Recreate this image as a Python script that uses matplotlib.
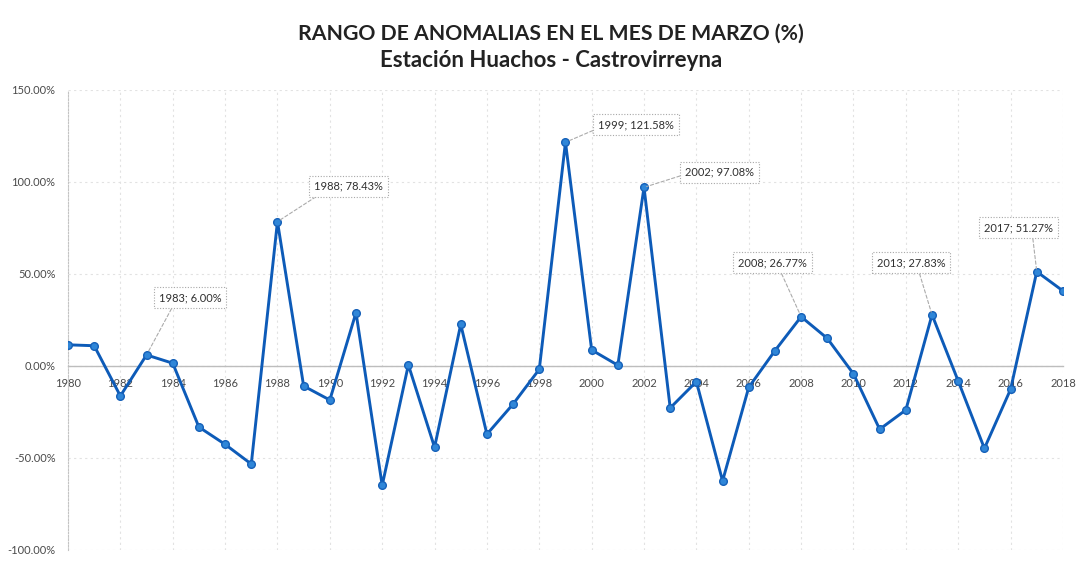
import matplotlib
matplotlib.use("Agg")
import matplotlib.pyplot as plt
from matplotlib.ticker import FuncFormatter, MultipleLocator

years = list(range(1980, 2019))
anomalies = [
    11.5, 11.0, -16.3, 6.00, 1.5, -33.2, -42.6, -53.3, 78.43, -10.9,
    -18.5, 29.0, -64.9, 0.6, -44.2, 22.6, -37.1, -20.7, -1.8, 121.58,
    8.7, 0.4, 97.08, -22.8, -8.5, -62.5, -11.6, 8.3, 26.77, 15.0,
    -4.3, -34.4, -23.9, 27.83, -8.2, -44.8, -12.7, 51.27, 40.8,
]

# Highlighted years: (year, label x, label y, leader anchor on the box)
callouts = [
    (1983, 1984.66, 37.0, (0.25, 0.0)),
    (1988, 1990.7, 97.8, (0.15, 0.0)),
    (1999, 2001.7, 131.0, (0.0, 0.2)),
    (2002, 2004.9, 105.4, (0.0, 0.3)),
    (2008, 2006.9, 56.0, (0.6, 0.0)),
    (2013, 2012.2, 56.0, (0.6, 0.0)),
    (2017, 2016.3, 75.0, (0.7, 0.0)),
]

title = "RANGO DE ANOMALIAS EN EL MES DE MARZO (%)"
subtitle = "Estación Huachos - Castrovirreyna"

plt.rcParams["font.family"] = ["Lato", "DejaVu Sans"]

fig = plt.figure(figsize=(10.81, 5.62), dpi=100)
ax = fig.add_axes([0.0629, 0.0214, 0.9204, 0.8185])

line_col = "#0d5bb8"
ax.plot(years, anomalies, color=line_col, lw=2.1, zorder=3,
        marker="o", markersize=5.5, markerfacecolor="#2f86d8",
        markeredgecolor="#1560b8", markeredgewidth=1.0)

ax.set_xlim(1980, 2018)
ax.set_ylim(-100, 150)
ax.yaxis.set_major_locator(MultipleLocator(50))
ax.xaxis.set_major_locator(MultipleLocator(2))
ax.yaxis.set_major_formatter(FuncFormatter(lambda v, p: f"{v:.2f}%"))
ax.xaxis.set_major_formatter(FuncFormatter(lambda v, p: f"{int(round(v))}"))

ax.grid(True, color="#e2e2e2", ls=(0, (2, 3)), lw=0.8, zorder=0)

for side in ("top", "right"):
    ax.spines[side].set_visible(False)
ax.spines["left"].set_color("#c4c4c4")
ax.spines["left"].set_linestyle((0, (1.5, 1.5)))
ax.spines["bottom"].set_position(("data", 0))
ax.spines["bottom"].set_color("#bdbdbd")
ax.spines["bottom"].set_linewidth(1.0)

ax.tick_params(axis="both", length=0, labelsize=8, colors="#4a4a4a")
ax.tick_params(axis="x", pad=9)
ax.tick_params(axis="y", pad=9)

for yr, lx, ly, rp in callouts:
    val = anomalies[years.index(yr)]
    ax.annotate(f"{yr}; {val:.2f}%", xy=(yr, val), xytext=(lx, ly),
                textcoords="data", ha="center", va="center",
                fontsize=8, color="#303030", zorder=5,
                bbox=dict(boxstyle="square,pad=0.45", fc="white",
                          ec="#a8a8a8", lw=0.8, ls=(0, (1, 1.5))),
                arrowprops=dict(arrowstyle="-", color="#ababab", lw=0.8,
                                ls=(0, (3, 2)), shrinkA=0, shrinkB=2,
                                relpos=rp))

fig.text(0.51, 0.941, title, ha="center", va="center", fontsize=15.3,
         fontweight="bold", color="#222222")
fig.text(0.51, 0.893, subtitle, ha="center", va="center", fontsize=16,
         fontweight="bold", color="#222222")

fig.savefig("out.png", dpi=100, facecolor="white")
